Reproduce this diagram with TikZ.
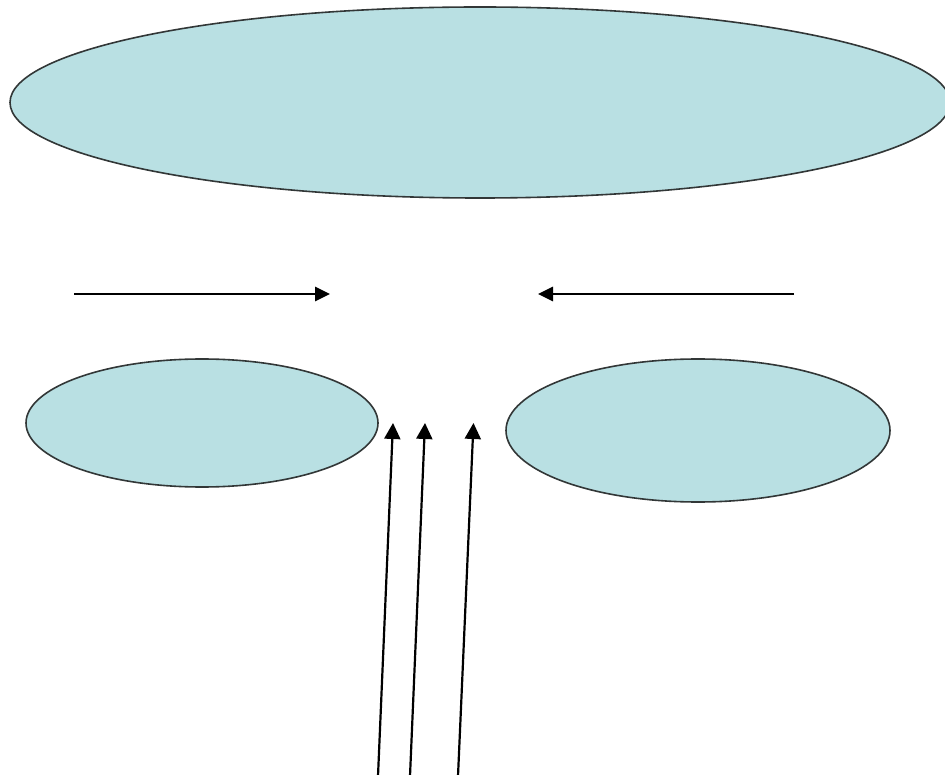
\documentclass[tikz,border=0pt]{standalone}
\usetikzlibrary{shapes.geometric,arrows.meta}
\definecolor{cloud}{RGB}{185,224,227}
\definecolor{rim}{RGB}{50,55,55}
\begin{document}
\begin{tikzpicture}[x=1pt,y=-1pt,
  blob/.style={ellipse,draw=rim,fill=cloud,line width=1.6pt,inner sep=0pt},
  harrow/.style={line width=2.8pt,-{Triangle[length=15pt,width=14pt]}},
  varrow/.style={line width=2.2pt,-{Triangle[length=16pt,width=16pt]}}]
\useasboundingbox[fill=white] (0,0) rectangle (945,775);
\node[blob,minimum width=940pt,minimum height=191pt] (top) at (480,102.5) {};
\node[blob,minimum width=352pt,minimum height=128pt] (left) at (202,423) {};
\node[blob,minimum width=384pt,minimum height=143pt] (right) at (698,430.5) {};
\coordinate (h1s) at (74,294);
\coordinate (h1e) at (330,294);
\coordinate (h2s) at (794,294);
\coordinate (h2e) at (538,294);
\draw[harrow] (h1s) -- (h1e);
\draw[harrow] (h2s) -- (h2e);
\coordinate (v1s) at (378,776);
\coordinate (v1e) at (393,423);
\coordinate (v2s) at (410,776);
\coordinate (v2e) at (425,423);
\coordinate (v3s) at (458,776);
\coordinate (v3e) at (473.5,423);
\draw[varrow] (v1s) -- (v1e);
\draw[varrow] (v2s) -- (v2e);
\draw[varrow] (v3s) -- (v3e);
\end{tikzpicture}
\end{document}
